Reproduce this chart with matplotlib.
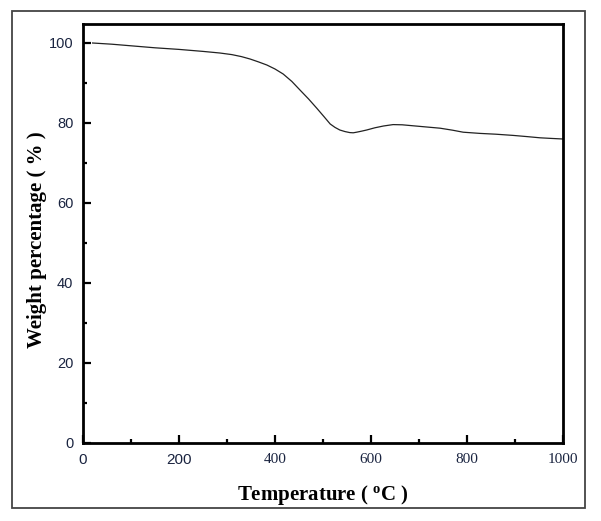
import matplotlib
matplotlib.use("Agg")
import matplotlib.pyplot as plt
from matplotlib.patches import Rectangle
import numpy as np

# Data
temperature = [20, 60, 100, 150, 200, 250, 285, 310, 330, 348, 365, 383, 400, 417, 435, 452, 470, 487, 502, 515, 525, 535, 546, 556, 563, 570, 580, 591, 608, 626, 646, 665, 688, 716, 744, 770, 792, 827, 860, 896, 925, 952, 975, 1000]
weight = [100.0, 99.7, 99.3, 98.8, 98.4, 97.9, 97.5, 97.1, 96.6, 96.0, 95.3, 94.5, 93.5, 92.25, 90.4, 88.25, 86.0, 83.7, 81.6, 79.75, 78.9, 78.25, 77.85, 77.6, 77.55, 77.7, 77.95, 78.25, 78.8, 79.25, 79.6, 79.55, 79.3, 79.0, 78.7, 78.2, 77.7, 77.4, 77.2, 76.9, 76.6, 76.3, 76.15, 76.0]

xticks = [0, 200, 400, 600, 800, 1000]
yticks = [0, 20, 40, 60, 80, 100]

W, H = 601, 521
fig = plt.figure(figsize=(W / 100, H / 100), dpi=100)
ax = fig.add_axes([83 / W, 1 - 443 / H, (563 - 83) / W, (443 - 24) / H])

ax.plot(temperature, weight, color="#222222", lw=0.9)

ax.set_xlim(0, 1000)
ax.set_ylim(0, 104.75)
ax.set_xticks(xticks)
ax.set_xticks(np.arange(100, 1000, 200), minor=True)
ax.set_yticks(yticks)
ax.set_yticks(np.arange(10, 100, 20), minor=True)

for s in ax.spines.values():
    s.set_linewidth(2.0)
ax.tick_params(which="both", direction="in", width=1.6, top=False, right=False)
ax.tick_params(which="major", length=6)
ax.tick_params(which="minor", length=3)
ax.tick_params(axis="y", pad=7, labelsize=10.5, labelcolor="#1a2440")
ax.tick_params(axis="x", pad=7, labelsize=11, labelcolor="#1a2440")

ax.set_yticklabels([str(v) for v in yticks], family="Liberation Sans")
xl = ax.set_xticklabels([str(v) for v in xticks])
for i, t in enumerate(xl):
    t.set_family("Liberation Sans" if i < 2 else "Liberation Serif")

ax.set_xlabel("Temperature ( $\\mathregular{^o}$C )", family="Liberation Serif",
              fontweight="bold", fontsize=15, labelpad=12)
ax.set_ylabel("Weight percentage ( % )", family="Liberation Serif",
              fontweight="bold", fontsize=15)
ax.yaxis.set_label_coords((47 - 83) / (563 - 83), (443 - 240) / (443 - 24))

# outer frame
fig.patches.append(Rectangle((12 / W, 1 - 508 / H), (585 - 12) / W, (508 - 11) / H,
                             transform=fig.transFigure, fill=False,
                             edgecolor="#444444", lw=1.3))

fig.savefig("out.png", dpi=100)
